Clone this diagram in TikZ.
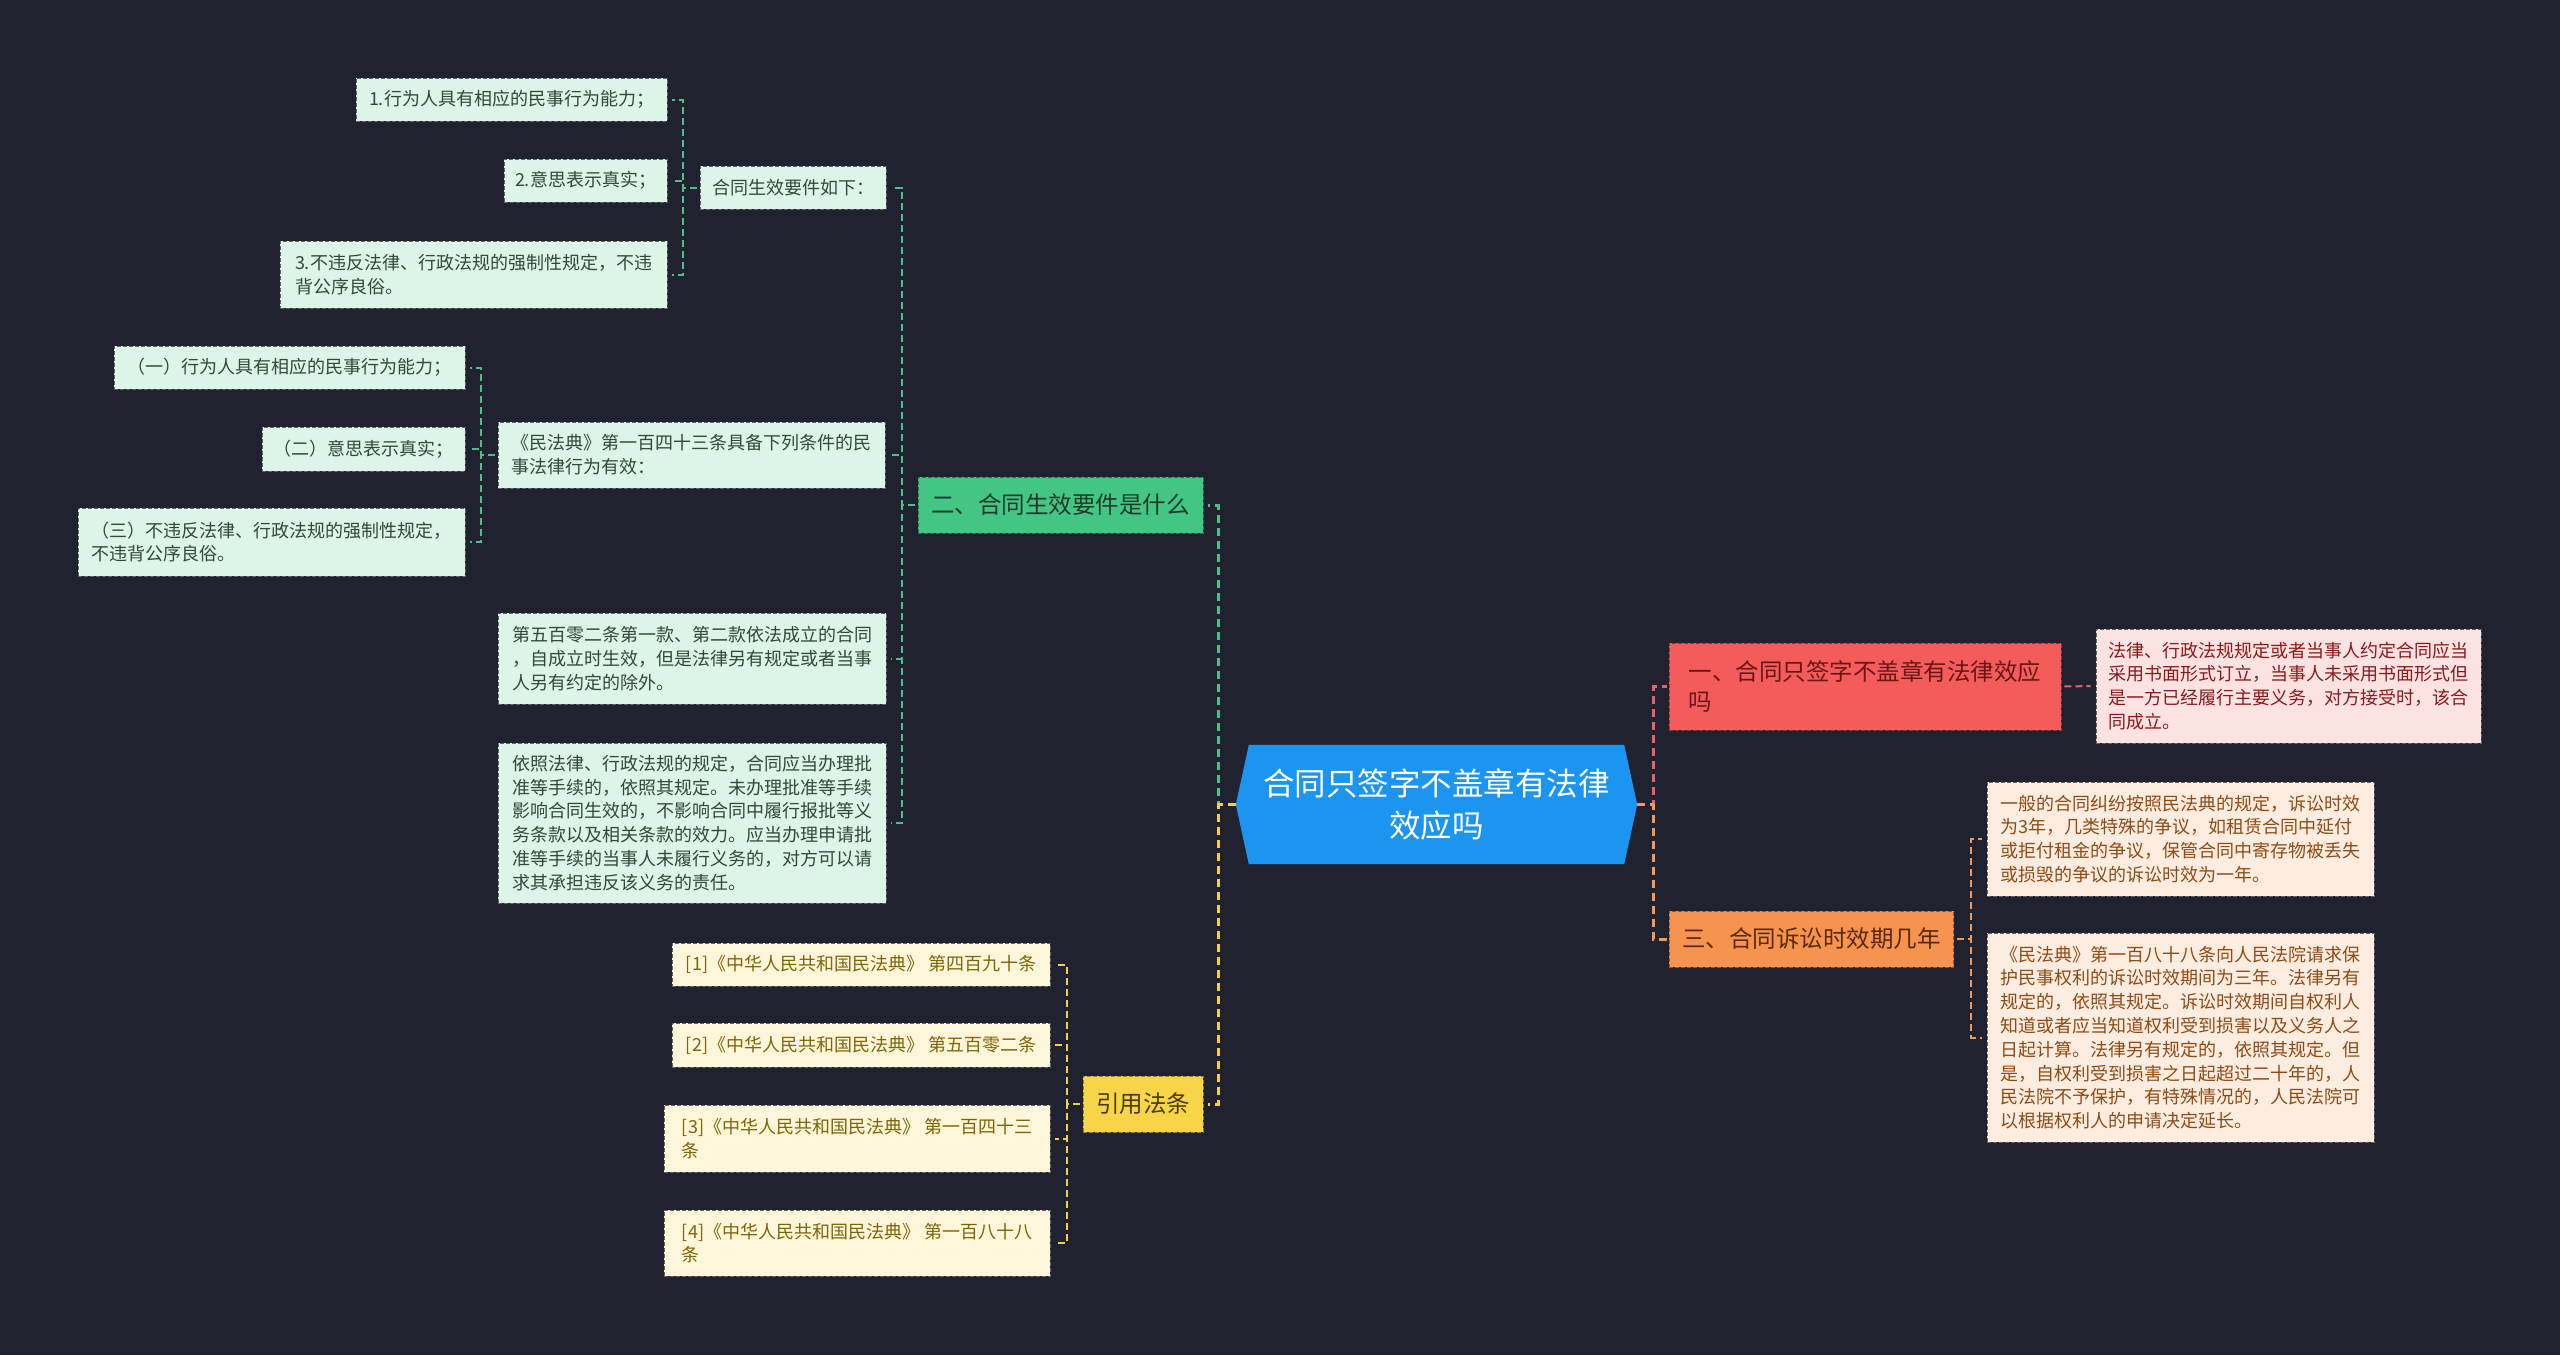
\documentclass[tikz,border=0pt]{standalone}
\usepackage{fontspec}
\newfontfamily\cjk{Noto Sans CJK SC}
\usetikzlibrary{calc}
\definecolor{bg}{HTML}{20232F}
\definecolor{cblue}{HTML}{1B95EF}
\definecolor{gfill}{HTML}{43C584}
\definecolor{gtext}{HTML}{1E3A2B}
\definecolor{glfill}{HTML}{DDF4E8}
\definecolor{gltext}{HTML}{2E4A3B}
\definecolor{gline}{HTML}{4CC08A}
\definecolor{rfill}{HTML}{F45B5B}
\definecolor{rtext}{HTML}{6A1616}
\definecolor{rlfill}{HTML}{FDE2E2}
\definecolor{rltext}{HTML}{8A1A1A}
\definecolor{rline}{HTML}{E5626A}
\definecolor{ofill}{HTML}{F6934E}
\definecolor{otext}{HTML}{5A2A08}
\definecolor{olfill}{HTML}{FDEDE1}
\definecolor{oltext}{HTML}{8E4B14}
\definecolor{oline}{HTML}{F39A5B}
\definecolor{yfill}{HTML}{F8D548}
\definecolor{ytext}{HTML}{4A3A00}
\definecolor{ylfill}{HTML}{FDF6DA}
\definecolor{yltext}{HTML}{7F6506}
\definecolor{yline}{HTML}{F4D04A}
\definecolor{lborder}{HTML}{5F6462}
\tikzset{
  leafbox/.style={draw=lborder, dash pattern=on 4pt off 2pt, line width=0.9pt,
    font=\cjk\fontsize{18}{23.8}\selectfont, align=left, inner xsep=10pt, inner ysep=0pt},
  gleaf/.style={leafbox, fill=glfill, text=gltext},
  rleaf/.style={leafbox, fill=rlfill, text=rltext},
  oleaf/.style={leafbox, fill=olfill, text=oltext},
  yleaf/.style={leafbox, fill=ylfill, text=yltext},
  branchbox/.style={dash pattern=on 4pt off 2pt, line width=0.9pt,
    font=\cjk\fontsize{23.5}{30}\selectfont, align=left, inner xsep=13pt, inner ysep=0pt},
  gbranch/.style={branchbox, fill=gfill, draw=gfill!60!black, text=gtext},
  rbranch/.style={branchbox, fill=rfill, draw=rfill!60!black, text=rtext},
  obranch/.style={branchbox, fill=ofill, draw=ofill!60!black, text=otext},
  ybranch/.style={branchbox, fill=yfill, draw=yfill!60!black, text=ytext},
  centertext/.style={font=\cjk\fontsize{31.5}{42}\selectfont, text=white, align=center, inner sep=0pt},
  mainline/.style={line width=3pt, dash pattern=on 8pt off 5pt, shorten >=5pt},
  subline/.style={line width=2pt, dash pattern=on 7pt off 4pt, shorten >=5pt, shorten <=3pt}
}
\begin{document}
\begin{tikzpicture}[x=1pt,y=-1pt]
\useasboundingbox (0,0) rectangle (2560,1355);
\fill[bg] (0,0) rectangle (2560,1355);

% centre
\path node[minimum width=375pt, minimum height=119pt, inner sep=0pt] (C) at (1436.5,804.5) {};
\coordinate (CL) at ($(C.west)+(-13,0)$);
\coordinate (CR) at ($(C.east)+(13,0)$);

% green branch
\node[gleaf, minimum width=311pt, minimum height=43pt] (g11) at (511.5,99.5) {1.行为人具有相应的民事行为能力；};
\node[gleaf, minimum width=163pt, minimum height=43pt] (g12) at (585.5,180.5) {2.意思表示真实；};
\node[gleaf, minimum width=387pt, minimum height=67pt] (g13) at (473.5,274.5) {3.不违反法律、行政法规的强制性规定，不违\\背公序良俗。};
\node[gleaf, minimum width=186pt, minimum height=43pt] (g1) at (793,187.5) {合同生效要件如下：};
\node[gleaf, minimum width=351pt, minimum height=43pt] (g21) at (289.5,367.5) {（一）行为人具有相应的民事行为能力；};
\node[gleaf, minimum width=203pt, minimum height=44pt] (g22) at (363.5,449) {（二）意思表示真实；};
\node[gleaf, minimum width=387pt, minimum height=68pt] (g23) at (271.5,542) {（三）不违反法律、行政法规的强制性规定，\\不违背公序良俗。};
\node[gleaf, minimum width=387pt, minimum height=66pt] (g2) at (691.5,455) {《民法典》第一百四十三条具备下列条件的民\\事法律行为有效：};
\node[gleaf, minimum width=388pt, minimum height=91pt] (g3) at (692,658.5) {第五百零二条第一款、第二款依法成立的合同\\，自成立时生效，但是法律另有规定或者当事\\人另有约定的除外。};
\node[gleaf, minimum width=388pt, minimum height=160pt] (g4) at (692,823) {依照法律、行政法规的规定，合同应当办理批\\准等手续的，依照其规定。未办理批准等手续\\影响合同生效的，不影响合同中履行报批等义\\务条款以及相关条款的效力。应当办理申请批\\准等手续的当事人未履行义务的，对方可以请\\求其承担违反该义务的责任。};
\node[gbranch, minimum width=285pt, minimum height=56pt] (G) at (1060.5,505) {二、合同生效要件是什么};

% red branch
\node[rbranch, minimum width=392pt, minimum height=87pt] (R) at (1865,686.5) {一、合同只签字不盖章有法律效应\\吗};
\node[rleaf, minimum width=385pt, minimum height=114pt] (r1) at (2288.5,686) {法律、行政法规规定或者当事人约定合同应当\\采用书面形式订立，当事人未采用书面形式但\\是一方已经履行主要义务，对方接受时，该合\\同成立。};

% orange branch
\node[obranch, minimum width=283pt, minimum height=56pt] (O) at (1811.5,939) {三、合同诉讼时效期几年};
\node[oleaf, minimum width=387pt, minimum height=114pt] (o1) at (2180.5,839) {一般的合同纠纷按照民法典的规定，诉讼时效\\为3年，几类特殊的争议，如租赁合同中延付\\或拒付租金的争议，保管合同中寄存物被丢失\\或损毁的争议的诉讼时效为一年。};
\node[oleaf, minimum width=387pt, minimum height=209pt] (o2) at (2180.5,1037.5) {《民法典》第一百八十八条向人民法院请求保\\护民事权利的诉讼时效期间为三年。法律另有\\规定的，依照其规定。诉讼时效期间自权利人\\知道或者应当知道权利受到损害以及义务人之\\日起计算。法律另有规定的，依照其规定。但\\是，自权利受到损害之日起超过二十年的，人\\民法院不予保护，有特殊情况的，人民法院可\\以根据权利人的申请决定延长。};

% yellow branch
\node[ybranch, minimum width=120pt, minimum height=56pt] (Y) at (1143,1104) {引用法条};
\node[yleaf, minimum width=378pt, minimum height=43pt] (y1) at (861,964.5) {[1]《中华人民共和国民法典》\hspace{4pt}第四百九十条};
\node[yleaf, minimum width=378pt, minimum height=44pt] (y2) at (861,1045) {[2]《中华人民共和国民法典》\hspace{4pt}第五百零二条};
\node[yleaf, minimum width=386pt, minimum height=67pt] (y3) at (857,1138.5) {[3]《中华人民共和国民法典》\hspace{4pt}第一百四十三\\条};
\node[yleaf, minimum width=386pt, minimum height=66pt] (y4) at (857,1243) {[4]《中华人民共和国民法典》\hspace{4pt}第一百八十八\\条};

% connectors: centre to branches
\draw[mainline, gline] (CL) -- ++(-17,0) |- (G.east);
\draw[mainline, yline] (CL) -- ++(-17,0) |- (Y.east);
\draw[mainline, rline, shorten >=2pt] (CR) -- ++(16,0) |- (R.west);
\draw[mainline, oline, shorten >=2pt] (CR) -- ++(16,0) |- (O.west);

% sub connectors
\foreach \c in {g1,g2,g3,g4} \draw[subline, gline] (G.west) -- ++(-16,0) |- (\c.east);
\foreach \c in {g11,g12,g13} \draw[subline, gline] (g1.west) -- ++(-17,0) |- (\c.east);
\foreach \c in {g21,g22,g23} \draw[subline, gline] (g2.west) -- ++(-17,0) |- (\c.east);
\draw[subline, rline] (R.east) -- (r1.west);
\foreach \c in {o1,o2} \draw[subline, oline] (O.east) -- ++(17,0) |- (\c.west);
\foreach \c in {y1,y2,y3,y4} \draw[subline, yline] (Y.west) -- ++(-16,0) |- (\c.east);

% centre hexagon
\fill[cblue] (C.north west) -- (CL) -- (C.south west) -- (C.south east) -- (CR) -- (C.north east) -- cycle;
\node[centertext] (Ct) at (C.center) {合同只签字不盖章有法律\\效应吗};
\end{tikzpicture}
\end{document}
